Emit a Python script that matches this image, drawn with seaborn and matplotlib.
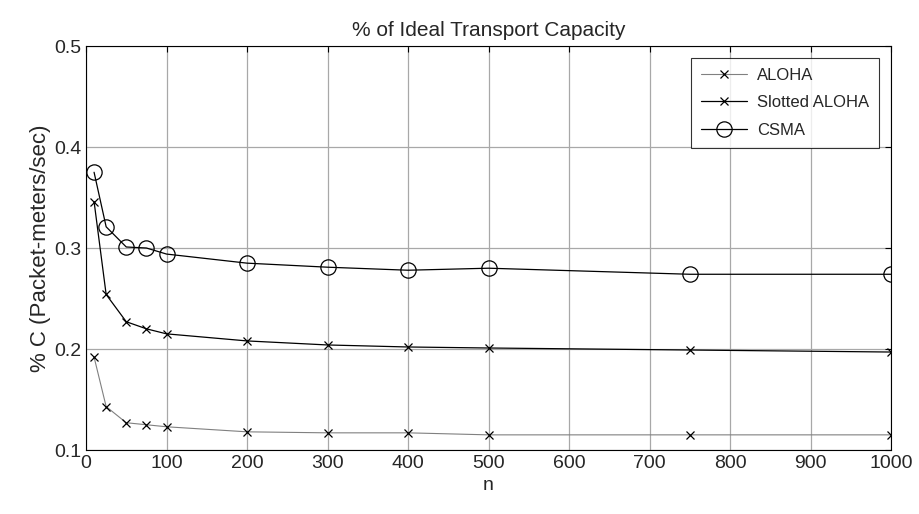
import numpy as np
import pandas as pd
import seaborn as sns
import matplotlib
matplotlib.use("Agg")
import matplotlib.pyplot as plt

n_vals = [10, 25, 50, 75, 100, 200, 300, 400, 500, 750, 1000]
aloha = [0.192, 0.143, 0.127, 0.125, 0.123, 0.118, 0.117, 0.117, 0.115, 0.115, 0.115]
slotted = [0.346, 0.254, 0.227, 0.220, 0.215, 0.208, 0.204, 0.202, 0.201, 0.199, 0.197]
csma = [0.375, 0.321, 0.301, 0.300, 0.294, 0.285, 0.281, 0.278, 0.280, 0.274, 0.274]

sns.set_style("white")
plt.rcParams['font.family'] = ['Liberation Sans', 'DejaVu Sans']

df = pd.DataFrame({
    "n": n_vals * 3,
    "val": aloha + slotted + csma,
    "proto": ["ALOHA"] * len(n_vals) + ["Slotted ALOHA"] * len(n_vals) + ["CSMA"] * len(n_vals),
})

fig = plt.figure(figsize=(9.19, 5.14), dpi=100)
ax = fig.add_axes([0.0936, 0.1245, 0.876, 0.786])

styles = {
    "ALOHA": dict(color="#808080", marker="x", markersize=6, lw=0.8),
    "Slotted ALOHA": dict(color="black", marker="x", markersize=6, lw=0.9),
    "CSMA": dict(color="black", marker="o", markersize=11, lw=0.9, markerfacecolor="none"),
}
for p in ["ALOHA", "Slotted ALOHA", "CSMA"]:
    sub = df[df.proto == p]
    sns.lineplot(data=sub, x="n", y="val", ax=ax, label=p,
                 markeredgecolor="black", markeredgewidth=0.9, **styles[p])

ax.set_xlim(0, 1000)
ax.set_ylim(0.1, 0.5)
ax.set_xticks(np.arange(0, 1001, 100))
ax.set_yticks([0.1, 0.2, 0.3, 0.4, 0.5])
ax.set_yticklabels(["0.1", "0.2", "0.3", "0.4", "0.5"])
ax.grid(True, color="#a8a8a8", lw=0.9)
ax.tick_params(direction="in", top=True, right=True, labelsize=14, length=4, color="black")
for s in ax.spines.values():
    s.set_color("black")
    s.set_linewidth(0.8)

ax.set_title("% of Ideal Transport Capacity", fontsize=15, pad=7)
ax.set_xlabel("n", fontsize=14, labelpad=4)
ax.set_ylabel("% C (Packet-meters/sec)", fontsize=16, labelpad=2)

leg = ax.legend(loc="upper right", fontsize=12, frameon=True, fancybox=False,
                edgecolor="black", borderaxespad=0.7, borderpad=0.6,
                handlelength=2.8, handletextpad=0.6, labelspacing=0.75)
leg.get_frame().set_linewidth(0.8)

fig.savefig("out.png", dpi=100)
